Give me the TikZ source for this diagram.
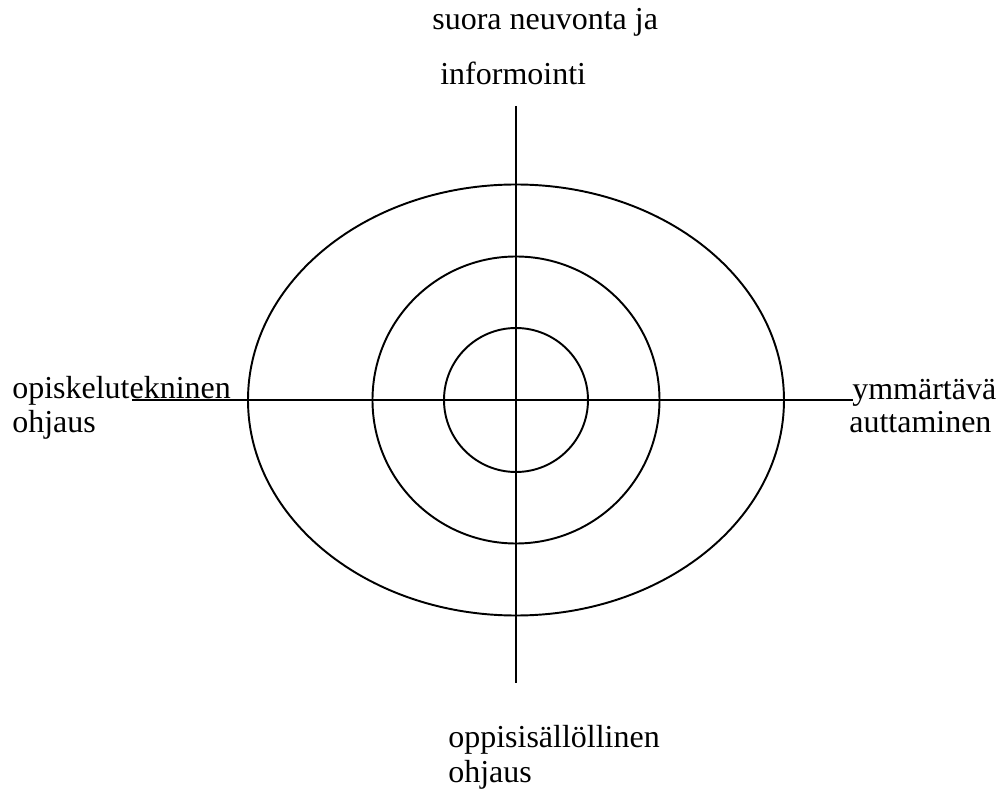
\documentclass[tikz,border=0pt]{standalone}
\usepackage{fontspec}
\setmainfont{Liberation Serif}
\usetikzlibrary{positioning}

\begin{document}
\begin{tikzpicture}[
    lbl/.style={inner sep=0pt, anchor=base west,
      font=\fontsize{18.2}{20}\selectfont},
    axis/.style={line width=1.3pt},
    ring/.style={line width=1.1pt}
  ]
    \useasboundingbox (-10.32,-7.82) rectangle (9.68,8.0);
    % axes
    \coordinate (c) at (0,0);
    \coordinate (ytop) at (0,5.88);
    \coordinate (ybot) at (0,-5.66);
    \coordinate (xleft) at (-7.68,0);
    \coordinate (xright) at (6.74,0);
    \draw[axis] (ytop) -- (ybot);
    \draw[axis] (xleft) -- (xright);
    % rings
    \draw[ring] (c) ellipse [x radius=5.36cm, y radius=4.31cm];
    \draw[ring] (c) circle [radius=2.87cm];
    \draw[ring] (c) circle [radius=1.44cm];
    % labels
    \node[lbl] (suora) at (-1.68,7.40) {suora neuvonta ja};
    \node[lbl] (inform) at (-1.52,6.30) {informointi};
    \node[lbl] (opisk) at (-10.08,0.02) {opiskelutekninen};
    \node[lbl] (opiskohj) at (-10.08,-0.66) {ohjaus};
    \node[lbl] (ymm) at (6.72,0.0) {ymmärtävä};
    \node[lbl] (autt) at (6.66,-0.66) {auttaminen};
    \node[lbl] (oppis) at (-1.36,-6.94) {oppisisällöllinen};
    \node[lbl] (oppisohj) at (-1.36,-7.64) {ohjaus};
  \end{tikzpicture}
\end{document}
